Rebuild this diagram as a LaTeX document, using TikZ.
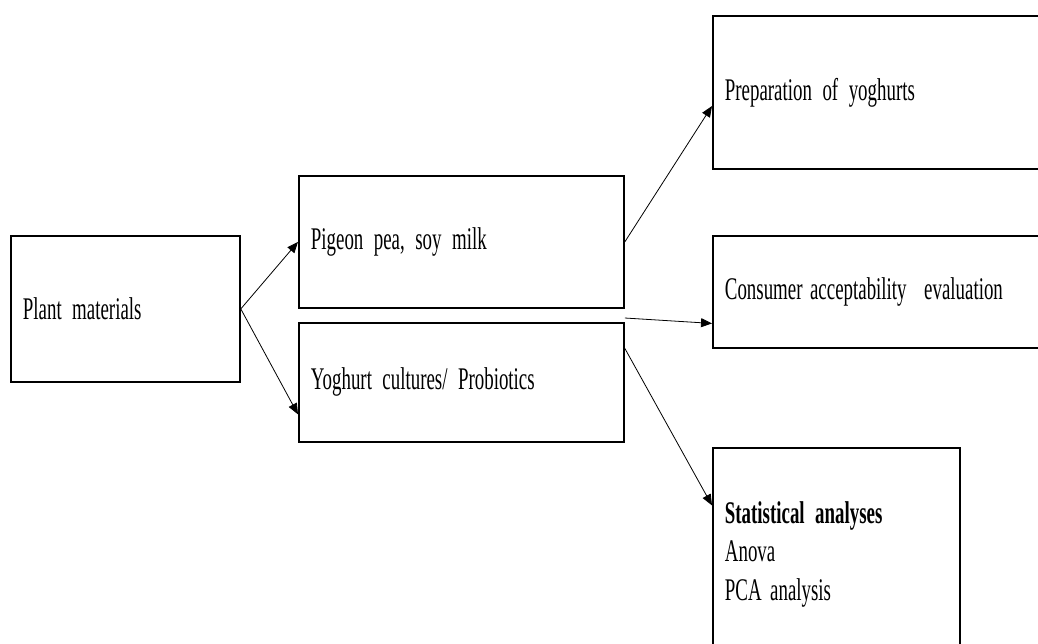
\documentclass[tikz,border=0pt]{standalone}
\usepackage{fontspec}
\setmainfont{Liberation Serif}[FakeStretch=0.6]
\usetikzlibrary{arrows.meta,calc}
\newcommand{\myboxfont}{\fontsize{31.5}{38.6}\selectfont\spaceskip=3.5pt plus 1pt minus 1pt\relax\xspaceskip=3.5pt\relax}
\begin{document}
\begin{tikzpicture}[x=1pt,y=-1pt,
  box/.style={draw, line width=1.8pt, anchor=north west, inner xsep=12pt, inner ysep=0pt,
    align=left, font=\myboxfont},
  conn/.style={line width=0.8pt, -{Triangle[length=11pt,width=9pt]}}]
\useasboundingbox (0,0) rectangle (1038,644);
\clip (0,0) rectangle (1038,644);
\fill[white] (0,0) rectangle (1038,644);
\node[box, minimum width=229pt, minimum height=146pt, text width=205pt] (A) at (10,235) {Plant materials};
\node[box, minimum width=325pt, minimum height=132pt, text width=301pt] (B) at (298,175) {Pigeon pea, soy milk};
\node[box, minimum width=325pt, minimum height=119pt, text width=301pt] (C) at (298,322) {Yoghurt cultures/ Probiotics};
\node[box, minimum width=340pt, minimum height=153pt, text width=316pt] (D) at (712,15) {Preparation of yoghurts};
\node[box, minimum width=340pt, minimum height=112pt, text width=316pt] (E) at (712,235) {Consumer\hspace{-3pt} acceptability\hspace{7pt} evaluation};
\node[box, minimum width=247pt, minimum height=213pt, text width=223pt] (F) at (712,447) {\textbf{Statistical analyses}\\Anova\\PCA\hspace{-2pt} analysis};
\draw[conn] (A.east) -- (B.west);
\draw[conn] (A.east) -- ($(C.north west)!0.765!(C.south west)$);
\draw[conn] (B.east) -- ($(D.north west)!0.588!(D.south west)$);
\draw[conn] ([yshift=4pt]C.north east) -- ($(E.north west)!0.777!(E.south west)$);
\draw[conn] ($(C.north east)!0.218!(C.south east)$) -- ($(F.north west)!0.272!(F.south west)$);
\end{tikzpicture}
\end{document}
